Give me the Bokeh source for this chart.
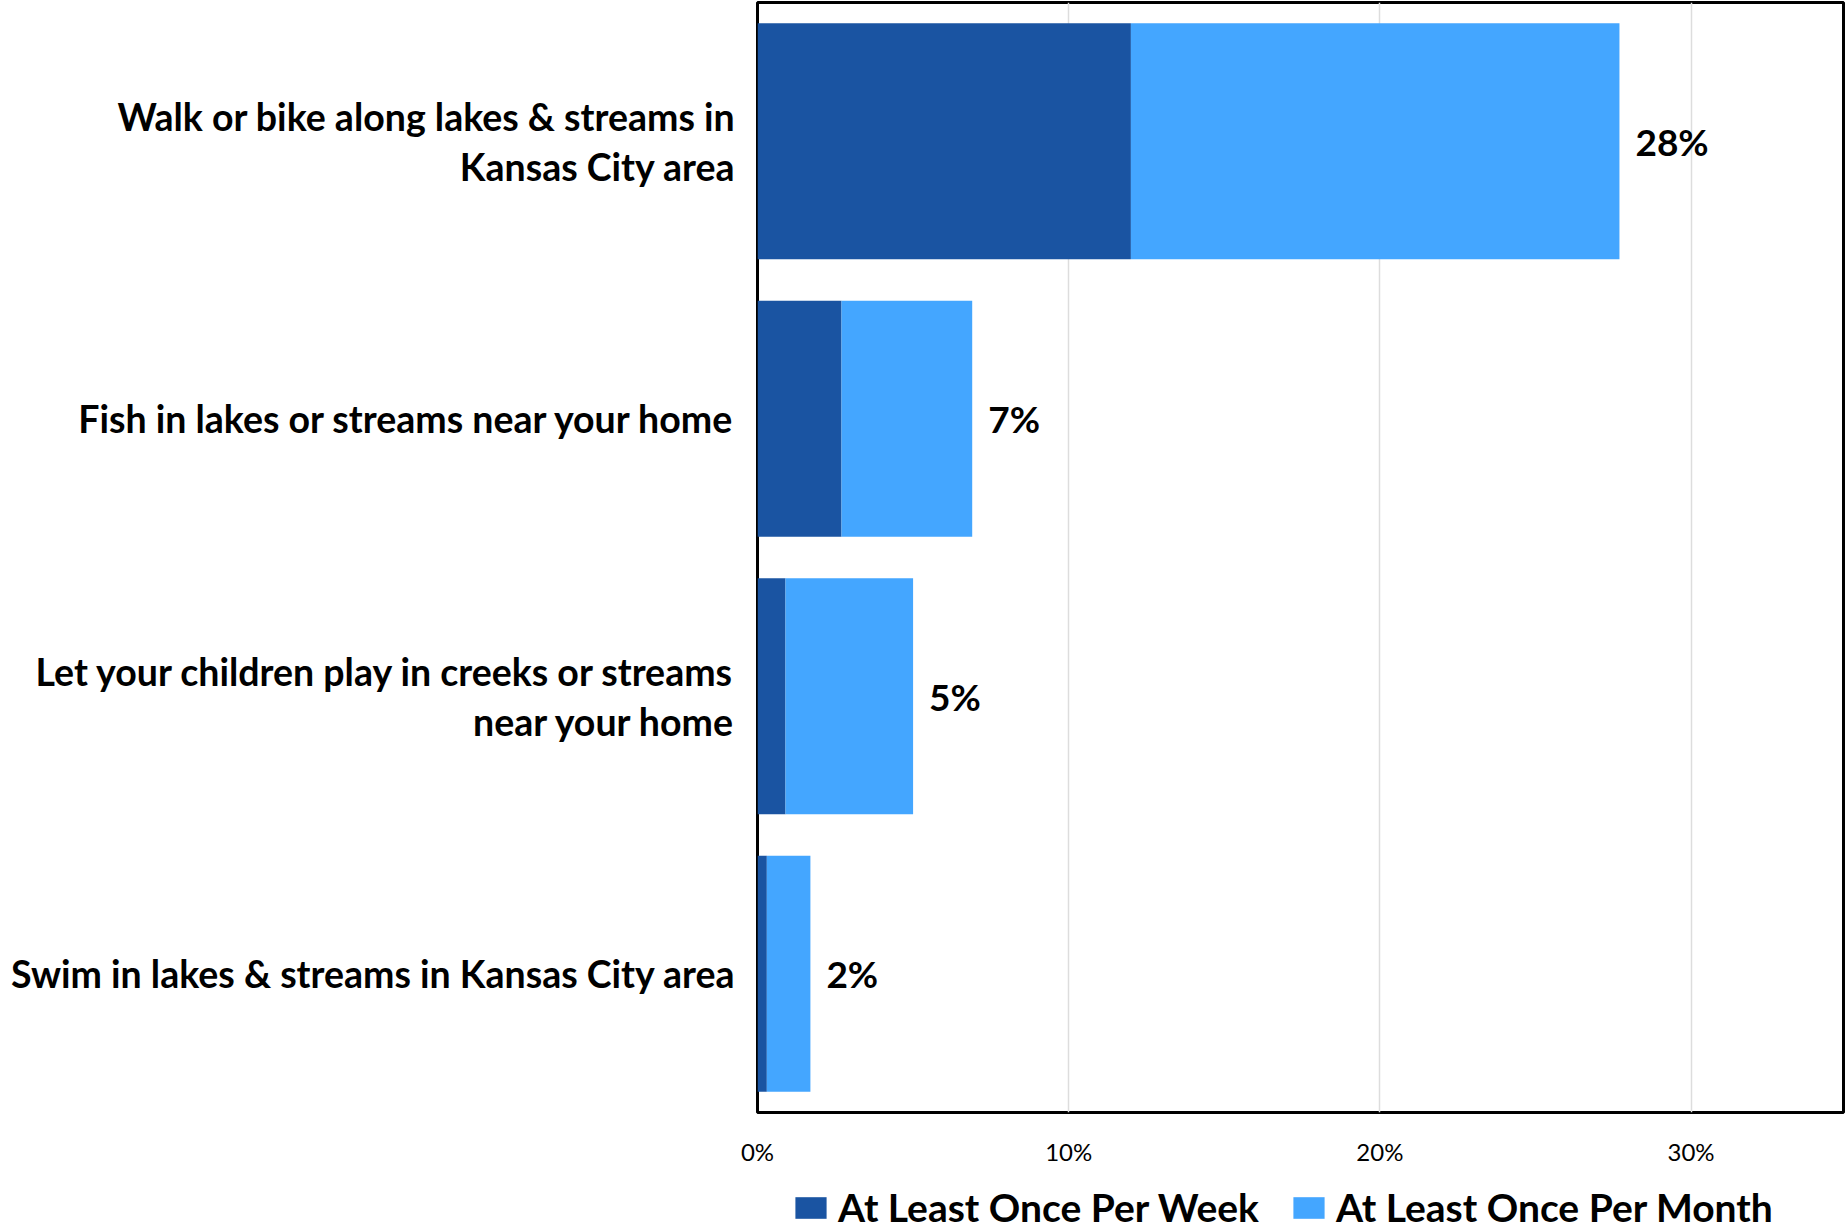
from bokeh.plotting import figure
from bokeh.layouts import column
from bokeh.models import (Range1d, FactorRange, FixedTicker, PrintfTickFormatter,
                          Legend, LegendItem, ColumnDataSource)
from bokeh.core.properties import value
from bokeh.embed import file_html
from bokeh.resources import INLINE

categories = [
    "Walk or bike along lakes & streams in\nKansas City area",
    "Fish in lakes or streams near your home",
    "Let your children play in creeks or streams\nnear your home",
    "Swim in lakes & streams in Kansas City area",
]
weekly = [12.0, 2.7, 0.9, 0.3]
monthly = [15.7, 4.2, 4.1, 1.4]
total_labels = ["28%", "7%", "5%", "2%"]
x_ticks = [0, 10, 20, 30]
series_names = ["At Least Once Per Week", "At Least Once Per Month"]
colors = ["#1A54A2", "#44A6FF"]

FONT = "Lato"

totals = [w + m for w, m in zip(weekly, monthly)]
source = ColumnDataSource(dict(cat=categories, week=weekly, month=monthly,
                               total=totals, lbl=total_labels))

# ---- main chart ----
p = figure(width=1845, height=1168, output_backend="svg", toolbar_location=None,
           y_range=FactorRange(factors=categories[::-1], range_padding=0),
           x_range=Range1d(0, 34.9))
p.min_border_left = 757
p.min_border_right = 2
p.min_border_top = 2
p.min_border_bottom = 51

renderers = p.hbar_stack(["week", "month"], y="cat", height=0.85, color=colors,
                         line_color=None, source=source)

p.text(x="total", y="cat", text="lbl", source=source, x_offset=16,
       text_align="left", text_baseline="middle",
       text_font=value(FONT), text_font_style="bold", text_font_size="37px",
       text_color="black")

p.outline_line_color = "black"
p.outline_line_width = 3
p.outline_line_alpha = 1

p.xgrid.ticker = FixedTicker(ticks=x_ticks)
p.xgrid.grid_line_color = "#DDDDDD"
p.xgrid.grid_line_width = 1.5
p.ygrid.grid_line_color = None

p.xaxis.ticker = FixedTicker(ticks=x_ticks)
p.xaxis.formatter = PrintfTickFormatter(format="%d%%")
p.xaxis.axis_line_color = None
p.xaxis.major_tick_line_color = None
p.xaxis.minor_tick_line_color = None
p.xaxis.major_label_standoff = 18
p.xaxis.major_label_text_font = FONT
p.xaxis.major_label_text_font_size = "24px"
p.xaxis.major_label_text_color = "black"

p.yaxis.axis_line_color = None
p.yaxis.major_tick_line_color = None
p.yaxis.minor_tick_line_color = None
p.yaxis.major_label_standoff = 16
p.yaxis.major_label_text_font = FONT
p.yaxis.major_label_text_font_style = "bold"
p.yaxis.major_label_text_font_size = "37.5px"
p.yaxis.major_label_text_color = "black"
p.yaxis.major_label_text_align = "right"
p.yaxis.major_label_text_line_height = 1.1

# ---- legend strip below the chart (same series, zero-height and outside view) ----
q = figure(width=1845, height=62, output_backend="svg", toolbar_location=None,
           x_range=Range1d(100, 101), y_range=FactorRange(factors=categories))
q.min_border_left = 757
q.min_border_right = 2
q.min_border_top = 0
q.min_border_bottom = 0
q.axis.visible = False
q.grid.visible = False
q.outline_line_color = None

swatches = q.hbar_stack(["week", "month"], y="cat", height=0, color=colors,
                        line_color=None, source=source)

legend = Legend(items=[LegendItem(label=series_names[i], renderers=[swatches[i]])
                       for i in range(2)],
                orientation="horizontal", location=(34, 0))
legend.label_text_font = FONT
legend.label_text_font_style = "bold"
legend.label_text_font_size = "39px"
legend.label_text_color = "black"
legend.glyph_width = 39
legend.glyph_height = 27
legend.label_standoff = 8
legend.spacing = 30
legend.border_line_color = None
legend.background_fill_alpha = 0
legend.padding = 0
legend.margin = 0
q.add_layout(legend, "center")

layout = column(p, q, spacing=0)
open("out.html", "w").write(file_html(layout, INLINE))
